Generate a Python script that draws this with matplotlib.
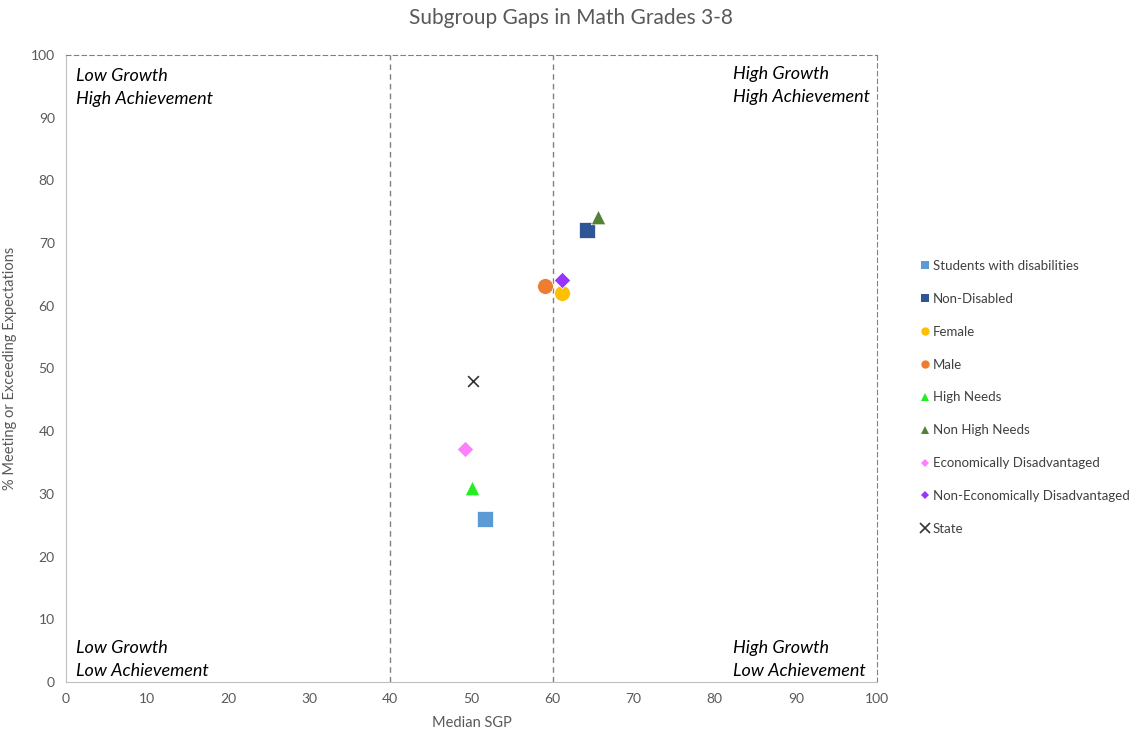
import matplotlib
matplotlib.use("Agg")
import matplotlib.pyplot as plt
from matplotlib.lines import Line2D

plt.rcParams['font.family'] = ['Lato', 'DejaVu Sans']

# data
groups = ['Students with disabilities', 'Non-Disabled', 'Female', 'Male',
          'High Needs', 'Non High Needs', 'Economically Disadvantaged',
          'Non-Economically Disadvantaged', 'State']
median_sgp = [51.7, 64.2, 61.2, 59.1, 50.1, 65.6, 49.2, 61.2, 50.2]
pct_meeting = [26.0, 72.1, 62.0, 63.2, 30.9, 74.2, 37.2, 64.1, 48.0]

markers = ['s', 's', 'o', 'o', '^', '^', 'D', 'D', 'x']
colors = ['#5B9BD5', '#2F5597', '#FFC000', '#ED7D31', '#22EE22',
          '#548235', '#FF7FFF', '#9933FF', '#333333']
sizes = [120, 120, 130, 130, 110, 110, 70, 70, 60]

fig = plt.figure(figsize=(11.41, 7.36), dpi=100)
ax = fig.add_axes([0.0578, 0.0734, 0.7108, 0.8519])

for g, x, y, m, c, s in zip(groups, median_sgp, pct_meeting, markers, colors, sizes):
    if m == 'x':
        ax.scatter(x, y, marker=m, color=c, s=s, linewidths=1.2, zorder=3)
    else:
        ax.scatter(x, y, marker=m, color=c, s=s, edgecolors='white',
                   linewidths=0.5, zorder=3)

ax.set_xlim(0, 100)
ax.set_ylim(0, 100)
ax.set_xticks(range(0, 101, 10))
ax.set_yticks(range(0, 101, 10))
ax.tick_params(length=0, labelsize=10, colors='#595959', pad=8)

for side in ['left', 'bottom']:
    ax.spines[side].set_color('#BFBFBF')
for side in ['top', 'right']:
    ax.spines[side].set_color('#808080')
    ax.spines[side].set_linestyle((0, (4, 3)))

for xv in [40, 60]:
    ax.axvline(xv, color='#808080', linestyle=(0, (4, 3)), linewidth=1, zorder=1)

ax.set_xlabel('Median SGP', fontsize=10.5, color='#595959', labelpad=8)
ax.set_ylabel('% Meeting or Exceeding Expectations', fontsize=10.5,
              color='#595959', labelpad=10)
fig.text(0.5, 0.975, 'Subgroup Gaps in Math Grades 3-8', ha='center', va='center',
         fontsize=15, color='#595959')

qfont = dict(fontsize=13, style='italic', color='black')
ax.text(1.2, 98.0, 'Low Growth\nHigh Achievement', va='top', ha='left',
        linespacing=1.55, **qfont)
ax.text(82.3, 98.2, 'High Growth\nHigh Achievement', va='top', ha='left',
        linespacing=1.55, **qfont)
ax.text(1.2, 0.4, 'Low Growth\nLow Achievement', va='bottom', ha='left',
        linespacing=1.55, **qfont)
ax.text(82.3, 0.4, 'High Growth\nLow Achievement', va='bottom', ha='left',
        linespacing=1.55, **qfont)

handles = []
for g, m, c in zip(groups, markers, colors):
    ms = 7 if m == 'x' else 6
    if m == 'D':
        ms = 4.5
    handles.append(Line2D([], [], linestyle='', marker=m, color=c,
                          markersize=ms, markeredgewidth=1.2 if m == 'x' else 0,
                          label=g))
leg = fig.legend(handles=handles, loc='center left', bbox_to_anchor=(0.793, 0.46),
                 frameon=False, fontsize=9.5, labelspacing=1.58, handletextpad=0.0,
                 handlelength=1.2, labelcolor='#404040')

fig.savefig('out.png', dpi=100)
